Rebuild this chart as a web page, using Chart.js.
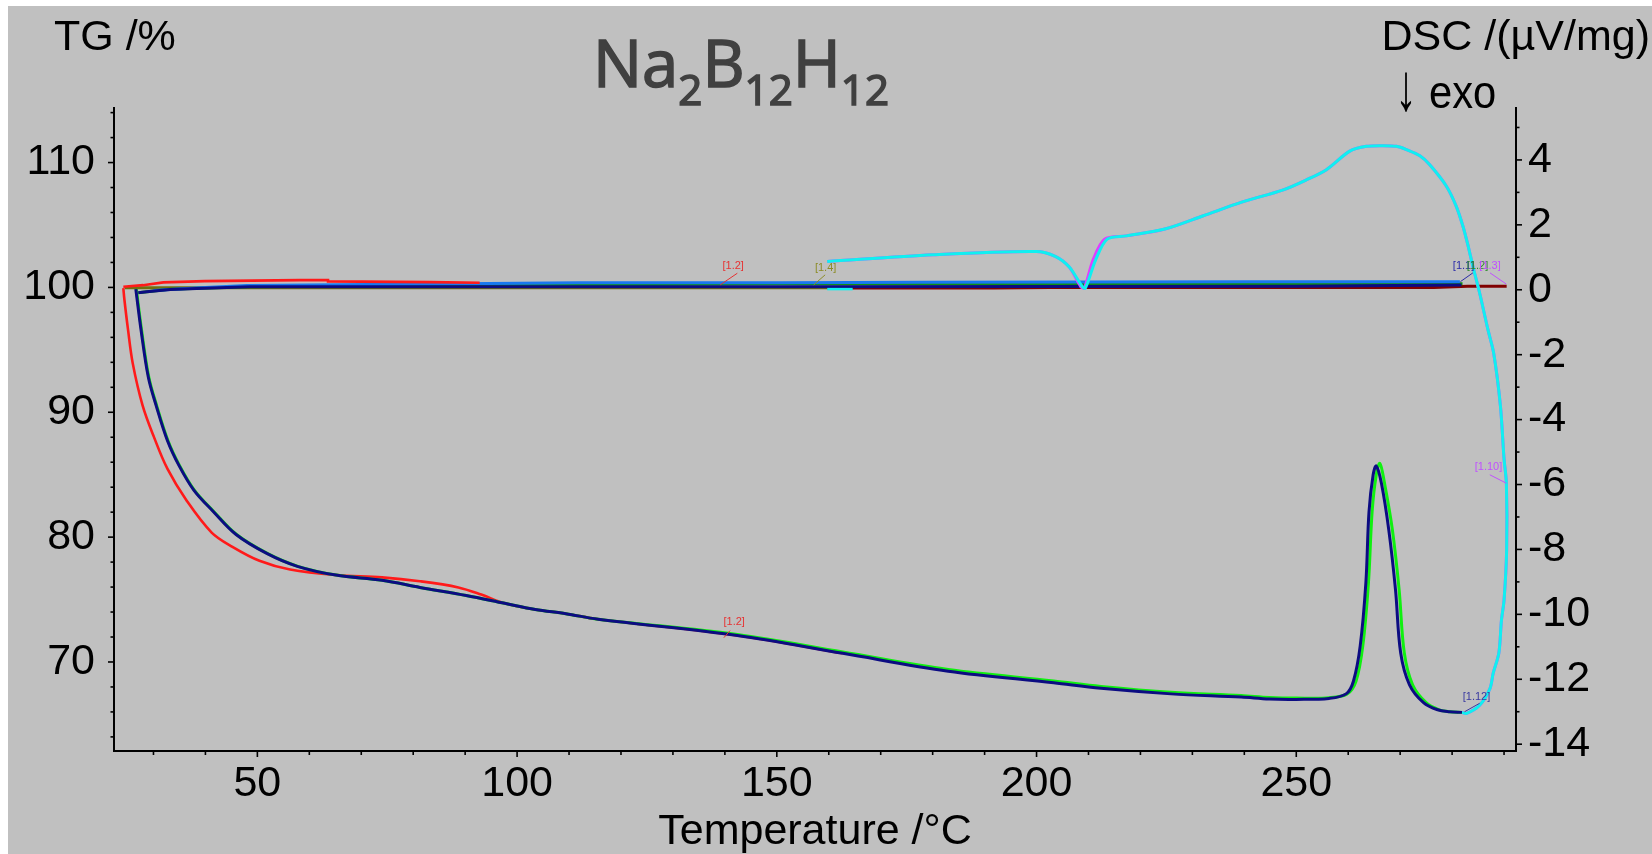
<!DOCTYPE html>
<html>
<head>
<meta charset="utf-8">
<title>Na2B12H12 TG / DSC</title>
<script src="https://cdn.jsdelivr.net/npm/chart.js@4.4.0/dist/chart.umd.min.js"></script>
<style>
  html, body { margin: 0; padding: 0; background: #fff; }
  canvas { display: block; }
</style>
</head>
<body>
<canvas id="tgChart" width="1652" height="854"></canvas>
<script>
// --- values (temperature in °C) ---

// DSC runs, right axis (µV/mg)
const navyT = [26.6, 27.6, 29.0, 30.5, 32.7, 34.9, 37.8, 41.5, 45.9, 51.9, 57.7, 65.1, 74.0, 81.3, 90.2, 97.6, 103.5, 109.4, 115.6, 142.4, 162.7, 183.0, 203.3, 212.4, 225.9, 239.4, 244.8, 250.0, 256.3, 259.6, 261.0, 262.3, 263.4, 264.0, 264.8, 265.4, 266.4, 267.8, 269.1, 270.1, 271.8, 274.5, 277.2, 279.5, 281.9];
const navyDSC = [0.02, -1.23, -2.69, -3.56, -4.65, -5.41, -6.18, -6.83, -7.54, -8.13, -8.52, -8.79, -8.95, -9.17, -9.42, -9.66, -9.85, -9.98, -10.15, -10.65, -11.2, -11.75, -12.11, -12.28, -12.45, -12.55, -12.61, -12.62, -12.59, -12.45, -12.06, -10.98, -9.02, -6.84, -5.7, -5.43, -5.97, -7.39, -9.24, -11.19, -12.17, -12.72, -12.94, -13.0, -13.02];

const greenT = [26.7, 27.7, 29.1, 30.6, 32.8, 35.0, 37.9, 41.6, 46.0, 52.0, 57.8, 65.2, 74.0, 81.3, 90.2, 97.6, 103.5, 109.4, 115.6, 142.4, 162.7, 183.0, 203.3, 212.4, 225.9, 239.4, 244.8, 250.0, 256.3, 259.8, 261.5, 262.8, 263.9, 264.6, 265.4, 266.1, 267.0, 268.5, 269.8, 270.8, 272.4, 275.0, 277.5, 279.5, 281.9];
const greenDSC = [0.02, -1.23, -2.69, -3.56, -4.65, -5.41, -6.18, -6.83, -7.54, -8.13, -8.52, -8.79, -8.95, -9.17, -9.42, -9.66, -9.85, -9.98, -10.15, -10.62, -11.16, -11.7, -12.05, -12.22, -12.4, -12.5, -12.56, -12.58, -12.57, -12.45, -12.06, -10.98, -9.02, -6.84, -5.7, -5.35, -5.97, -7.39, -9.24, -11.19, -12.17, -12.72, -12.94, -13.0, -13.02];

const redT = [24.2, 24.4, 25.1, 26.0, 27.9, 30.1, 32.7, 36.4, 41.2, 45.2, 50.4, 56.3, 65.1, 74.0, 81.3, 88.7, 93.1, 97.6, 103.5, 109.4, 115.6, 142.4, 162.7];
const redDSC = [0.05, -0.30, -1.23, -2.26, -3.56, -4.54, -5.52, -6.50, -7.48, -7.92, -8.35, -8.62, -8.79, -8.86, -8.98, -9.17, -9.39, -9.66, -9.85, -9.98, -10.15, -10.65, -11.2];

const cyanT = [159.7, 180.0, 199.9, 203.6, 206.3, 208.8, 209.4, 211.4, 213.6, 217.3, 224.7, 232.1, 239.5, 247.5, 252.0, 255.8, 260.3, 263.5, 266.7, 269.3, 271.2, 273.8, 275.7, 278.9, 280.8, 282.1, 283.1, 284.0, 285.3, 286.9, 288.0, 289.3, 290.0, 290.45, 290.5, 290.0, 289.5, 289.0, 287.9, 287.3, 285.3, 282.8, 281.9];
const cyanDSC = [0.87, 1.08, 1.18, 1.03, 0.70, 0.10, 0.05, 0.93, 1.56, 1.66, 1.87, 2.28, 2.70, 3.08, 3.39, 3.70, 4.27, 4.42, 4.44, 4.42, 4.32, 4.13, 3.85, 3.19, 2.57, 1.95, 1.34, 0.72, -0.10, -1.23, -1.95, -3.58, -5.21, -5.96, -8.0, -9.56, -10.18, -11.19, -11.82, -12.28, -12.8, -13.05, -13.02];
// short cyan piece on the baseline where the cooling trace begins
const cyanStartT = [159.7, 164.6];
const cyanStartDSC = [0.02, 0.02];

const magentaT = [159.7, 180.0, 199.9, 203.6, 206.3, 208.5, 209.2, 210.9, 213.1, 217.3, 224.7, 232.1, 239.5, 247.5, 252.0, 255.8, 260.3, 263.5, 266.7, 269.3, 271.2, 273.8, 275.7, 278.9, 280.8, 282.1, 283.1, 284.0, 285.3, 286.9, 288.0, 289.3, 290.0, 290.45, 290.5, 290.0, 289.5, 289.0, 287.9, 287.3, 285.3, 282.8, 281.9];
const magentaDSC = [0.87, 1.08, 1.18, 1.03, 0.70, 0.10, 0.05, 0.93, 1.56, 1.66, 1.87, 2.28, 2.70, 3.08, 3.39, 3.70, 4.27, 4.42, 4.44, 4.42, 4.32, 4.13, 3.85, 3.19, 2.57, 1.95, 1.34, 0.72, -0.10, -1.23, -1.95, -3.58, -5.21, -5.96, -8.0, -9.56, -10.18, -11.19, -11.82, -12.28, -12.8, -13.05, -13.02];

// TG runs, left axis (%)
const redTgT = [92.8, 83.2, 63.6, 63.6, 58.2, 39.9, 31.9, 28.0, 24.2];
const redTG = [100.37, 100.42, 100.48, 100.58, 100.58, 100.50, 100.40, 100.18, 100.05];
const navyTgT = [26.6, 28.7, 33.2, 38.3, 48.6, 100.0, 150.0, 200.0, 250.0, 281.8];
const navyTG = [99.55, 99.65, 99.84, 99.92, 100.05, 100.05, 100.06, 100.08, 100.1, 100.2];
const blueTgT = [30.0, 38.0, 48.0, 112.0, 151.0, 178.0, 241.0, 281.5];
const blueTG = [99.75, 99.95, 100.15, 100.38, 100.38, 100.42, 100.45, 100.45];
const greenTgT = [27.5, 33.0, 48.0, 151.0, 207.0, 224.0, 282.0];
const greenTG = [99.6, 99.85, 100.05, 100.3, 100.3, 100.3, 100.3];
const maroonTgT = [159.7, 191.8, 202.5, 276.5, 283.0, 290.5];
const maroonTG = [99.95, 99.95, 100.0, 100.0, 100.1, 100.1];
const oliveTgT = [24.5, 113.6, 122.9, 159.7];
const oliveTG = [99.97, 99.97, 99.97, 99.97];

// axis tick labels
const tempTicks = [50, 100, 150, 200, 250];
const tgTicks = [70, 80, 90, 100, 110];
const dscTicks = [-14, -12, -10, -8, -6, -4, -2, 0, 2, 4];

// small curve labels (positions in T / DSC units) and their leader lines
const markTexts = ['[1.2]', '[1.4]', '[1.2]', '[1.10]', '[1.12]', '[1.1]', '[1.2]', '[1.3]'];
const markColors = ['#e63232', '#8c8c28', '#e63232', '#c050ff', '#3a3aa0', '#2a2aa8', '#2a8a2a', '#c050ff'];
const markT = [141.6, 159.4, 141.8, 287.0, 284.7, 282.2, 284.9, 287.3];
const markDSC = [0.74, 0.66, -10.23, -5.47, -12.54, 0.72, 0.72, 0.72];
const leaders = [
  [142.4, 0.51, 139.1, 0.15],
  [159.3, 0.46, 157.1, 0.15],
  [141.0, -10.5, 139.8, -10.72],
  [287.25, -5.70, 290.45, -5.96],
  [285.3, -12.74, 282.4, -13.0],
  [281.6, 0.25, 284.0, 0.52],
  null,
  [287.3, 0.52, 290.4, 0.18]
];

const pts = (xs, ys) => xs.map((x, i) => ({ x: x, y: ys[i] }));

function line(label, xs, ys, color, axis, width, tension) {
  return {
    label: label,
    data: pts(xs, ys),
    yAxisID: axis,
    showLine: true,
    borderColor: color,
    backgroundColor: color,
    borderWidth: width,
    pointRadius: 0,
    tension: tension,
    fill: false
  };
}

const tickFont = { family: 'Liberation Sans', size: 43 };

const frame = {
  id: 'frame',
  beforeDraw(chart) {
    const ctx = chart.ctx;
    ctx.save();
    ctx.fillStyle = '#ffffff';
    ctx.fillRect(0, 0, chart.width, chart.height);
    ctx.fillStyle = '#c0c0c0';
    ctx.fillRect(8, 6, chart.width - 8, chart.height - 6);
    ctx.restore();
  },
  afterDatasetsDraw(chart) {
    const ctx = chart.ctx;
    const xs = chart.scales.x, ys = chart.scales.y2;
    ctx.save();
    ctx.font = '11px "Liberation Sans"';
    ctx.textAlign = 'center';
    ctx.textBaseline = 'middle';
    ctx.lineWidth = 1;
    markTexts.forEach((t, i) => {
      ctx.fillStyle = markColors[i];
      ctx.strokeStyle = markColors[i];
      ctx.fillText(t, xs.getPixelForValue(markT[i]), ys.getPixelForValue(markDSC[i]));
      const l = leaders[i];
      if (l) {
        ctx.beginPath();
        ctx.moveTo(xs.getPixelForValue(l[0]), ys.getPixelForValue(l[1]));
        ctx.lineTo(xs.getPixelForValue(l[2]), ys.getPixelForValue(l[3]));
        ctx.stroke();
      }
    });
    ctx.restore();
  },
  afterDraw(chart) {
    const ctx = chart.ctx;
    const { x, y, y2 } = chart.scales;
    ctx.save();
    ctx.strokeStyle = '#000';
    ctx.lineWidth = 1.6;

    // tick marks: major ones a bit longer
    function marks(scale, step, major, side) {
      const first = Math.ceil(scale.min / step - 1e-9);
      for (let i = first; i * step <= scale.max + 1e-9; i++) {
        const v = i * step;
        const big = Math.abs(v / major - Math.round(v / major)) < 1e-6;
        const p = scale.getPixelForValue(v);
        ctx.beginPath();
        if (side === 'left') {
          ctx.moveTo(scale.right, p); ctx.lineTo(scale.right - (big ? 6 : 3.5), p);
        } else if (side === 'right') {
          ctx.moveTo(scale.left, p); ctx.lineTo(scale.left + (big ? 6 : 3.5), p);
        } else {
          ctx.moveTo(p, scale.top); ctx.lineTo(p, scale.top + (big ? 6 : 4));
        }
        ctx.stroke();
      }
    }
    marks(y, 2, 10, 'left');
    marks(y2, 1, 2, 'right');
    marks(x, 10, 50, 'bottom');

    // axis titles
    ctx.fillStyle = '#000';
    ctx.font = '43px "Liberation Sans"';
    ctx.textBaseline = 'alphabetic';
    ctx.textAlign = 'left';
    ctx.fillText('TG /%', 54, 49.5);
    ctx.textAlign = 'right';
    ctx.fillText('DSC /(µV/mg)', 1650, 50);
    ctx.textAlign = 'center';
    ctx.fillText('Temperature /°C', (chart.chartArea.left + chart.chartArea.right) / 2, 844);

    // "↓ exo" marker, the arrow is tall and thin in the original
    ctx.save();
    ctx.translate(1406, 110);
    ctx.scale(1, 1.55);
    ctx.textAlign = 'center';
    ctx.fillText('↓', 0, 0);
    ctx.restore();
    ctx.save();
    ctx.translate(1429, 108);
    ctx.scale(0.97, 1.08);
    ctx.textAlign = 'left';
    ctx.fillText('exo', 0, 0);
    ctx.restore();

    // formula title
    const parts = [['Na', 0], ['2', 1], ['B', 0], ['12', 1], ['H', 0], ['12', 1]];
    const fonts = ['65px "Open Sans"', '42px "Open Sans"'];
    const bases = [86.5, 105];
    const widths = parts.map(p => { ctx.font = fonts[p[1]]; return ctx.measureText(p[0]).width; });
    const total = widths.reduce((a, b) => a + b, 0);
    const sx = 296 / total;
    let cx = 593;
    ctx.fillStyle = '#404040';
    ctx.strokeStyle = '#404040';
    ctx.lineWidth = 1.6;
    ctx.textAlign = 'left';
    parts.forEach((p, i) => {
      ctx.save();
      ctx.font = fonts[p[1]];
      ctx.translate(cx, bases[p[1]]);
      ctx.scale(sx, 1);
      ctx.fillText(p[0], 0, 0);
      ctx.strokeText(p[0], 0, 0);
      ctx.restore();
      cx += widths[i] * sx;
    });
    ctx.restore();
  }
};

new Chart(document.getElementById('tgChart').getContext('2d'), {
  type: 'scatter',
  data: {
    datasets: [
      line('DSC 1.12', navyT, navyDSC, '#0c0c82', 'y2', 3, 0.35),
      line('DSC 1.11', greenT, greenDSC, '#10f010', 'y2', 3, 0.35),
      line('DSC 1.2', redT, redDSC, '#ff1a1a', 'y2', 2.6, 0.35),
      line('DSC 1.10', cyanT, cyanDSC, '#10f0f0', 'y2', 3, 0.3),
      line('DSC 1.10 start', cyanStartT, cyanStartDSC, '#10f0f0', 'y2', 2.5, 0),
      line('DSC 1.9', magentaT, magentaDSC, '#e040ff', 'y2', 3, 0.3),
      line('TG red', redTgT, redTG, '#ff1a1a', 'y', 2.6, 0),
      line('TG navy', navyTgT, navyTG, '#0c0c82', 'y', 3, 0),
      line('TG blue', blueTgT, blueTG, '#1878f0', 'y', 3, 0),
      line('TG green', greenTgT, greenTG, '#109010', 'y', 3, 0),
      line('TG maroon', maroonTgT, maroonTG, '#800000', 'y', 3, 0),
      line('TG olive', oliveTgT, oliveTG, '#707010', 'y', 3, 0)
    ]
  },
  options: {
    responsive: false,
    animation: false,
    devicePixelRatio: 1,
    layout: { padding: { top: 108, left: 0, right: 0, bottom: 0 } },
    plugins: {
      legend: { display: false },
      tooltip: { enabled: false },
      title: { display: false }
    },
    scales: {
      x: {
        type: 'linear',
        position: 'bottom',
        min: 22.4,
        max: 292.3,
        afterFit: s => { s.height = 103; },
        afterBuildTicks: s => { s.ticks = tempTicks.map(v => ({ value: v })); },
        grid: { display: false, drawTicks: false },
        border: { display: true, color: '#000', width: 2 },
        ticks: { font: tickFont, color: '#000', padding: 7, maxRotation: 0, autoSkip: false }
      },
      y: {
        type: 'linear',
        position: 'left',
        min: 62.87,
        max: 114.37,
        afterFit: s => { s.width = 114; },
        afterBuildTicks: s => { s.ticks = tgTicks.map(v => ({ value: v })); },
        grid: { display: false, drawTicks: false },
        border: { display: true, color: '#000', width: 2 },
        ticks: { font: tickFont, color: '#000', padding: 19, autoSkip: false }
      },
      y2: {
        type: 'linear',
        position: 'right',
        min: -14.21,
        max: 5.6,
        afterFit: s => { s.width = 136; },
        afterBuildTicks: s => { s.ticks = dscTicks.map(v => ({ value: v })); },
        grid: { display: false, drawTicks: false },
        border: { display: true, color: '#000', width: 2 },
        ticks: { font: tickFont, color: '#000', padding: 12, autoSkip: false }
      }
    }
  },
  plugins: [frame]
});
</script>
</body>
</html>
